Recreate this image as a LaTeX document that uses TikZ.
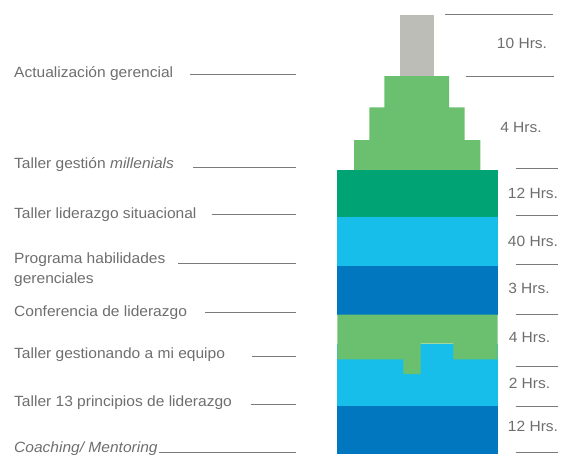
\documentclass[tikz,border=0pt]{standalone}
\usepackage{fontspec}
\setmainfont[FakeStretch=1.05]{Liberation Sans}
\definecolor{txt}{HTML}{6E6E6E}
\definecolor{rule}{HTML}{7A7A7A}
\definecolor{cgray}{HTML}{BDBDB7}
\definecolor{cgreen}{HTML}{6BC06F}
\definecolor{cdkgreen}{HTML}{00A474}
\definecolor{ccyan}{HTML}{17BEE9}
\definecolor{cblue}{HTML}{0077BE}
\begin{document}
\begin{tikzpicture}[x=1pt,y=-1pt,
  lbl/.style={anchor=base west,inner sep=0pt,text=txt,font=\fontsize{14.8}{19.5}\selectfont,align=left},
  hrs/.style={anchor=center,inner sep=0pt,text=txt,font=\fontsize{14.8}{17}\selectfont},
  leader/.style={draw=rule,line width=1pt}]
\useasboundingbox (0,0) rectangle (563,456);
% blocks
\fill[cgray] (400,15) rectangle (434,76);
\fill[cgreen] (384.3,76) -- (449,76) -- (449,107.3) -- (464.7,107.3) -- (464.7,140) -- (480.3,140) -- (480.3,170) -- (354,170) -- (354,140) -- (369.3,140) -- (369.3,107.3) -- (384.3,107.3) -- cycle;
\fill[cdkgreen] (337.3,170) rectangle (497.7,216.7);
\fill[ccyan] (337.3,216.7) rectangle (497.7,266);
\fill[cblue] (337.3,266) rectangle (497.7,314.7);
\fill[ccyan] (337.3,343.7) rectangle (497.7,406);
\fill[cgreen] (337.3,314.7) -- (497.7,314.7) -- (497.7,359.3) -- (453.3,359.3) -- (453.3,343.7) -- (420.7,343.7) -- (420.7,374) -- (403.3,374) -- (403.3,359.3) -- (337.3,359.3) -- cycle;
\fill[cblue] (337.3,406) rectangle (497.7,454);
% left labels
\node[lbl] (l1) at (14,77.5) {Actualización gerencial};
\node[lbl] (l2) at (14,168.5) {Taller gestión \textit{millenials}};
\node[lbl] (l3) at (14,218.3) {Taller liderazgo situacional};
\node[lbl,anchor=north west] (l4) at (14,253) {Programa habilidades\\gerenciales};
\node[lbl] (l5) at (14,316.7) {Conferencia de liderazgo};
\node[lbl] (l6) at (14,358.3) {Taller gestionando a mi equipo};
\node[lbl] (l7) at (14,406.7) {Taller 13 principios de liderazgo};
\node[lbl] (l8) at (14,452.3) {\textit{Coaching/ Mentoring}};
% left leader end points
\coordinate (a1) at (190,74.3);   \coordinate (b1) at (295.7,74.3);
\coordinate (a2) at (193.3,167.7);\coordinate (b2) at (295.7,167.7);
\coordinate (a3) at (211.7,214.3);\coordinate (b3) at (295.7,214.3);
\coordinate (a4) at (178.3,263.3);\coordinate (b4) at (295.7,263.3);
\coordinate (a5) at (205,312.3);  \coordinate (b5) at (295.7,312.3);
\coordinate (a6) at (252.3,356.7);\coordinate (b6) at (295.7,356.7);
\coordinate (a7) at (250.7,404);  \coordinate (b7) at (295.7,404);
\coordinate (a8) at (159,452.3);  \coordinate (b8) at (295.7,452.3);
\foreach \i in {1,...,8} \draw[leader] (a\i) -- (b\i);
% right hour labels
\node[hrs] (h1) at (522,43) {10 Hrs.};
\node[hrs] (h2) at (521,127) {4 Hrs.};
\node[hrs] (h3) at (533,193.3) {12 Hrs.};
\node[hrs] (h4) at (533,241.7) {40 Hrs.};
\node[hrs] (h5) at (529,288.3) {3 Hrs.};
\node[hrs] (h6) at (529.5,337) {4 Hrs.};
\node[hrs] (h7) at (529.5,383) {2 Hrs.};
\node[hrs] (h8) at (533,426) {12 Hrs.};
% right rules
\coordinate (r0a) at (445,14);    \coordinate (r0b) at (553,14);
\coordinate (r1a) at (465.7,76);  \coordinate (r1b) at (554,76);
\coordinate (r2a) at (515.7,168.5);\coordinate (r2b) at (558,168.5);
\coordinate (r3a) at (515.7,215.7);\coordinate (r3b) at (558,215.7);
\coordinate (r4a) at (515.7,264.3);\coordinate (r4b) at (558,264.3);
\coordinate (r5a) at (515.7,314);  \coordinate (r5b) at (558,314);
\coordinate (r6a) at (515.7,366.7);\coordinate (r6b) at (558,366.7);
\coordinate (r7a) at (515.7,406);  \coordinate (r7b) at (558,406);
\coordinate (r8a) at (515.7,452.7);\coordinate (r8b) at (558,452.7);
\foreach \i in {0,...,8} \draw[leader] (r\i a) -- (r\i b);
\end{tikzpicture}
\end{document}
